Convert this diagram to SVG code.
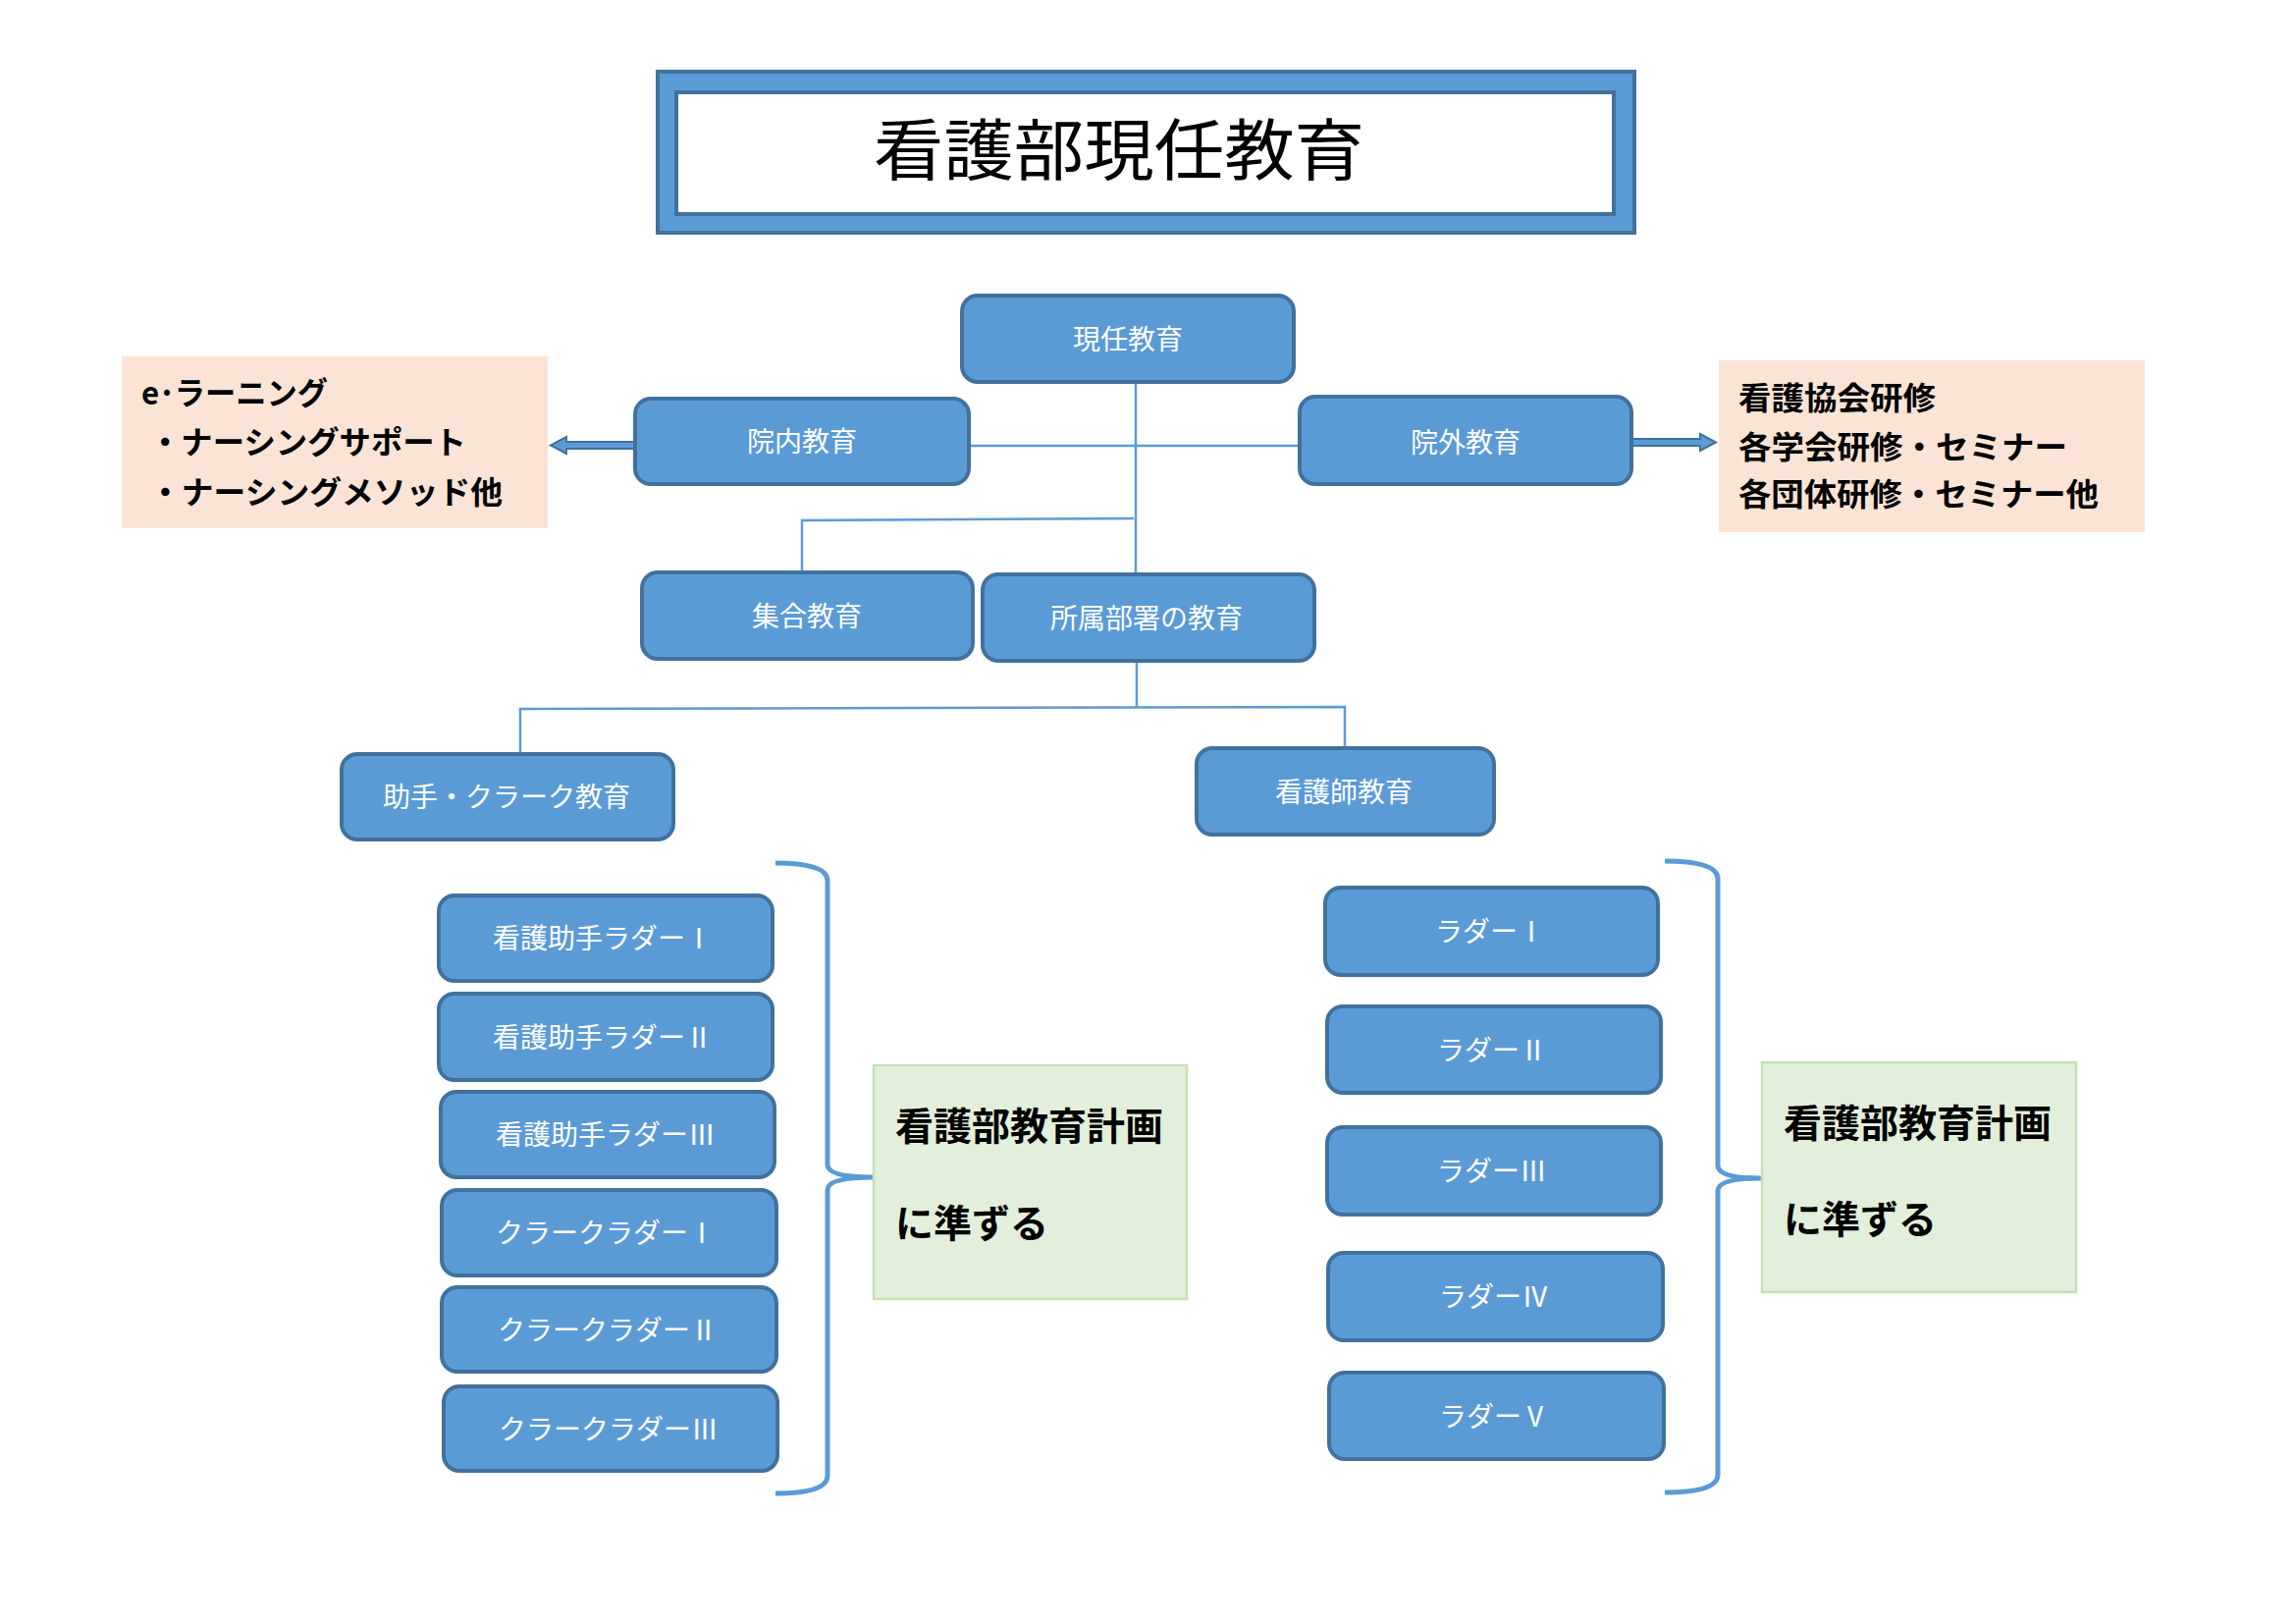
<svg xmlns="http://www.w3.org/2000/svg" width="2339" height="1654" viewBox="0 0 2339 1654">
<style>
.node rect{fill:#5B9BD5;stroke:#41719C;stroke-width:4}
.node text{fill:#FFFFFF;font-family:"Noto Sans CJK JP","Noto Sans",sans-serif;font-size:28px;text-anchor:middle}
.conn line,.conn polyline{stroke:#5B9BD5;stroke-width:2.5;fill:none}
.note{fill:#FBE4D5}
.note text{font-family:"Noto Sans CJK JP",sans-serif;font-size:32px;font-weight:bold;fill:#000}
.green rect{fill:#E2EFDA;stroke:#C5E0B4;stroke-width:2.5}
.green text{font-family:"Noto Sans CJK JP",sans-serif;font-size:39px;font-weight:bold;fill:#000}
.brace{fill:none;stroke:#5B9BD5;stroke-width:5}
.arrow{fill:#5B9BD5;stroke:#41719C;stroke-width:2}
</style>
<rect width="2339" height="1654" fill="#FFFFFF"/>

<g id="title">
<rect x="670" y="73" width="995" height="164" fill="#5B9BD5" stroke="#41719C" stroke-width="4"/>
<rect x="689" y="94" width="955" height="124" fill="#FFFFFF" stroke="#41719C" stroke-width="4"/>
<text x="1140" y="178" font-family="Noto Sans CJK JP, sans-serif" font-size="68" text-anchor="middle" textLength="500" lengthAdjust="spacingAndGlyphs" fill="#000">看護部現任教育</text>
</g>

<g id="connectors" class="conn">
<line x1="1157" y1="389" x2="1157" y2="585"/>
<line x1="987" y1="454" x2="1323" y2="454"/>
<polyline points="1155,528 817,530 817,583"/>
<line x1="1158" y1="673" x2="1158" y2="720"/>
<polyline points="530,768 530,722 1370,720 1370,762"/>
<path class="arrow" d="M647,450 L577,450 L577,445 L561,453.5 L577,462 L577,457 L647,457 Z"/>
<path class="arrow" d="M1662,447 L1732,447 L1732,442 L1748,450.5 L1732,459 L1732,454 L1662,454 Z"/>
<path class="brace" d="M790,879 Q843,879 843,897 L843,1186 Q843,1199 889,1199 Q843,1199 843,1212 L843,1503 Q843,1521 790,1521"/>
<path class="brace" d="M1696,877 Q1750,877 1750,895 L1750,1187 Q1750,1200 1794,1200 Q1750,1200 1750,1213 L1750,1502 Q1750,1520 1696,1520"/>
</g>

<g id="note-left" class="note-g">
<rect class="note" x="124" y="363" width="434" height="175"/>
<g class="note"><text x="144" y="412" textLength="190" lengthAdjust="spacingAndGlyphs">e･ラーニング</text>
<text x="152" y="462" textLength="323" lengthAdjust="spacingAndGlyphs">・ナーシングサポート</text>
<text x="152" y="513" textLength="360" lengthAdjust="spacingAndGlyphs">・ナーシングメソッド他</text></g>
</g>

<g id="note-right">
<rect class="note" x="1751" y="367" width="434" height="175"/>
<g class="note"><text x="1771" y="417" textLength="201" lengthAdjust="spacingAndGlyphs">看護協会研修</text>
<text x="1771" y="467" textLength="335" lengthAdjust="spacingAndGlyphs">各学会研修・セミナー</text>
<text x="1771" y="515" textLength="367" lengthAdjust="spacingAndGlyphs">各団体研修・セミナー他</text></g>
</g>

<g id="n-genin" class="node"><rect x="980" y="301" width="338" height="88" rx="16"/><text x="1149" y="356">現任教育</text></g>
<g id="n-innai" class="node"><rect x="647" y="406" width="340" height="87" rx="16"/><text x="817" y="460">院内教育</text></g>
<g id="n-ingai" class="node"><rect x="1324" y="404" width="338" height="89" rx="16"/><text x="1493" y="461">院外教育</text></g>
<g id="n-shugo" class="node"><rect x="654" y="583" width="337" height="88" rx="16"/><text x="822" y="638">集合教育</text></g>
<g id="n-shozoku" class="node"><rect x="1001" y="585" width="338" height="88" rx="16"/><text x="1168" y="640">所属部署の教育</text></g>
<g id="n-joshu" class="node"><rect x="348" y="768" width="338" height="87" rx="16"/><text x="516" y="822">助手・クラーク教育</text></g>
<g id="n-kangoshi" class="node"><rect x="1219" y="762" width="303" height="88" rx="16"/><text x="1369" y="817">看護師教育</text></g>

<g id="n-l1" class="node"><rect x="447" y="912" width="340" height="87" rx="16"/><text x="614" y="966">看護助手ラダーⅠ</text></g>
<g id="n-l2" class="node"><rect x="447" y="1012" width="340" height="88" rx="16"/><text x="614" y="1067">看護助手ラダーⅡ</text></g>
<g id="n-l3" class="node"><rect x="449" y="1112" width="340" height="87" rx="16"/><text x="617" y="1166">看護助手ラダーⅢ</text></g>
<g id="n-l4" class="node"><rect x="450" y="1212" width="341" height="87" rx="16"/><text x="617" y="1266">クラークラダーⅠ</text></g>
<g id="n-l5" class="node"><rect x="450" y="1311" width="341" height="86" rx="16"/><text x="619" y="1365">クラークラダーⅡ</text></g>
<g id="n-l6" class="node"><rect x="452" y="1412" width="340" height="86" rx="16"/><text x="620" y="1466">クラークラダーⅢ</text></g>

<g id="n-r1" class="node"><rect x="1350" y="904" width="339" height="89" rx="16"/><text x="1518" y="959">ラダーⅠ</text></g>
<g id="n-r2" class="node"><rect x="1352" y="1025" width="340" height="88" rx="16"/><text x="1520" y="1080">ラダーⅡ</text></g>
<g id="n-r3" class="node"><rect x="1352" y="1148" width="340" height="89" rx="16"/><text x="1520" y="1203">ラダーⅢ</text></g>
<g id="n-r4" class="node"><rect x="1353" y="1276" width="341" height="89" rx="16"/><text x="1522" y="1331">ラダーⅣ</text></g>
<g id="n-r5" class="node"><rect x="1354" y="1398" width="341" height="88" rx="16"/><text x="1522" y="1453">ラダーⅤ</text></g>

<g id="plan-left" class="green"><rect x="890" y="1085" width="319" height="238"/><text x="912" y="1161">看護部教育計画</text><text x="912" y="1260">に準ずる</text></g>
<g id="plan-right" class="green"><rect x="1795" y="1082" width="320" height="234"/><text x="1817" y="1158">看護部教育計画</text><text x="1817" y="1256">に準ずる</text></g>
</svg>
